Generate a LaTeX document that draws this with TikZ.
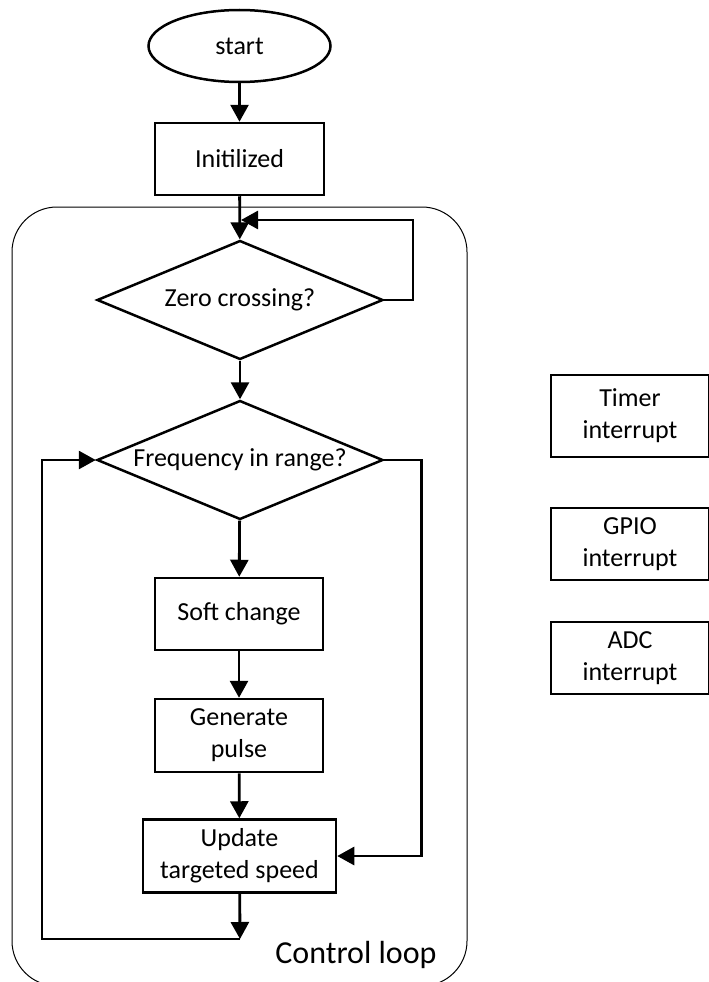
\documentclass[tikz,border=0pt]{standalone}
\usepackage{fontspec}
\setmainfont{Carlito}
\usetikzlibrary{shapes.geometric,arrows.meta}
\begin{document}
\begin{tikzpicture}[x=1pt,y=-1pt,
  every node/.style={font=\fontsize{26pt}{32pt}\selectfont, align=center, inner sep=0pt},
  procbox/.style={draw, line width=2.5pt, rectangle},
  decbox/.style={draw, line width=2.5pt, diamond, minimum width=286pt, minimum height=119pt},
  termbox/.style={draw, line width=2.5pt, ellipse, minimum width=182pt, minimum height=72pt},
  arr/.style={line width=2.8pt, -{Triangle[length=17pt,width=18pt]}}
]
\useasboundingbox (0,0) rectangle (709,982);
% control loop frame
\draw[line width=1pt, rounded corners=45pt] (12,207) rectangle (467,986);
\node[anchor=base] (cl) at (356,963) {\fontsize{32pt}{38pt}\selectfont Control loop};

\node[termbox] (start) at (239.5,46) {start};
\node[procbox, minimum width=169pt, minimum height=72pt] (init) at (239.5,159) {Initilized};
\node[decbox] (zero) at (240,300) {\makebox[0pt]{Zero crossing?}};
\node[decbox] (freq) at (240,460) {\makebox[0pt]{Frequency in range?}};
\node[procbox, minimum width=168pt, minimum height=72pt] (soft) at (239,614) {Soft change};
\node[procbox, minimum width=168pt, minimum height=73pt] (gen) at (239,735.5) {Generate\\pulse};
\node[procbox, minimum width=193pt, minimum height=73pt] (upd) at (239.5,856) {Update\\targeted speed};

\node[procbox, minimum width=158pt, minimum height=82pt] (timer) at (630,416) {Timer\\interrupt};
\node[procbox, minimum width=158pt, minimum height=72pt] (gpio) at (630,544) {GPIO\\interrupt};
\node[procbox, minimum width=158pt, minimum height=72pt] (adc) at (630,658) {ADC\\interrupt};

\coordinate (fb) at (241,220);
\coordinate (zr) at (413,220);
\coordinate (bt) at (240,939);
\coordinate (bl) at (42,939);

\draw[arr] (start) -- (init);
\draw[arr] (init) -- (zero);
\draw[arr] (zero.east) -| (zr) -- (fb);
\draw[arr] (zero) -- (freq);
\draw[arr] (freq) -- (soft);
\draw[arr] (soft) -- (gen);
\draw[arr] (gen) -- (upd);
\draw[arr] (freq.east) -- ++(37,0) |- (upd.east);
\draw[arr] (upd) -- (bt);
\draw[arr] (bt) -- (bl) |- (freq.west);
\end{tikzpicture}
\end{document}
